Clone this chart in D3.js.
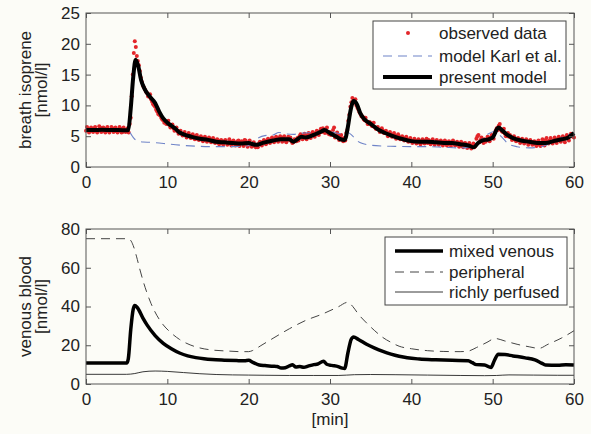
<!DOCTYPE html>
<html>
<head>
<meta charset="utf-8">
<script src="https://cdn.jsdelivr.net/npm/d3@7"></script>
<style>
  body { margin: 0; background: #fcfcf7; }
  svg { display: block; font-family: "Liberation Sans", Arial, sans-serif; }
  .axis path { display: none; }
  .axis line { stroke: #555; }
  .axis text { font-size: 17px; fill: #222; }
</style>
</head>
<body>
<div id="chart"></div>
<script>
// données

// mesures : une toutes les 0.125 min, rangées en deux séries décalées
const obsStep = 0.25;
// breath isoprene observé [nmol/l] à t = i*0.25, une ligne par minute
const observed = [
  5.9, 6.2, 5.8, 6.1,   // 0
  6.3, 5.9, 6.0, 6.4,   // 1
  5.8, 6.1, 6.2, 5.9,   // 2
  6.0, 6.3, 5.8, 6.1,   // 3
  5.9, 6.2, 5.7, 6.0,   // 4
  5.8, 5.6, 8.0, 15.0,  // 5
  20.4, 18.0, 16.5, 14.5, // 6
  13.2, 12.6, 12.0, 11.4, // 7
  11.0, 10.2, 9.8, 9.0, // 8
  8.5, 8.0, 7.6, 7.4,   // 9
  7.0, 6.8, 6.5, 6.3,   // 10
  6.0, 5.8, 5.7, 5.4,   // 11
  5.3, 5.2, 5.0, 5.1,   // 12
  4.8, 4.9, 4.6, 4.8,   // 13
  4.5, 4.7, 4.4, 4.6,   // 14
  4.3, 4.5, 4.2, 4.4,   // 15
  4.0, 4.3, 4.1, 3.9,   // 16
  4.2, 4.0, 3.8, 4.1,   // 17
  3.9, 4.0, 3.7, 4.3,   // 18
  3.8, 3.9, 4.4, 3.7,   // 19
  3.9, 3.6, 3.8, 3.4,   // 20
  3.6, 3.8, 3.9, 4.1,   // 21
  4.0, 4.3, 4.2, 4.5,   // 22
  4.3, 4.6, 4.4, 4.7,   // 23
  4.5, 4.8, 4.3, 4.6,   // 24
  4.4, 4.2, 4.0, 4.4,   // 25
  4.7, 5.0, 4.8, 5.1,   // 26
  4.9, 5.2, 5.0, 5.4,   // 27
  5.3, 5.5, 5.6, 5.8,   // 28
  5.7, 6.1, 5.8, 5.5,   // 29
  5.7, 5.3, 6.4, 5.0,   // 30
  5.2, 4.8, 4.6, 4.7,   // 31
  5.5, 7.5, 9.8, 11.2,  // 32
  10.8, 10.0, 9.3, 8.6, // 33
  8.2, 7.6, 7.4, 7.0,   // 34
  7.1, 6.6, 6.5, 6.2,   // 35
  6.1, 5.8, 5.9, 5.5,   // 36
  5.5, 5.2, 5.3, 5.0,   // 37
  5.1, 4.8, 4.9, 4.6,   // 38
  4.7, 4.4, 4.5, 4.2,   // 39
  4.3, 4.1, 4.3, 4.0,   // 40
  4.2, 4.0, 4.1, 4.3,   // 41
  3.9, 4.1, 4.2, 3.9,   // 42
  4.0, 4.1, 3.8, 4.0,   // 43
  3.9, 4.1, 3.7, 3.9,   // 44
  4.0, 3.8, 3.6, 3.9,   // 45
  3.7, 3.5, 3.8, 3.4,   // 46
  3.6, 3.3, 3.5, 3.2,   // 47
  4.6, 5.2, 4.4, 4.2,   // 48
  4.5, 4.3, 4.6, 4.8,   // 49
  5.0, 5.6, 6.3, 6.7,   // 50
  6.1, 5.7, 5.4, 5.1,   // 51
  4.9, 4.8, 4.5, 4.6,   // 52
  4.3, 4.4, 4.1, 4.3,   // 53
  4.0, 4.2, 3.9, 4.1,   // 54
  3.7, 4.0, 3.6, 3.9,   // 55
  3.7, 4.0, 4.4, 4.1,   // 56
  4.3, 4.0, 4.4, 4.2,   // 57
  4.5, 4.3, 4.6, 4.4,   // 58
  4.8, 4.6, 5.0, 5.2,   // 59
  4.8                   // 60
];
// deuxième série, à t = 0.125 + i*0.25
const observedB = [
  6.5, 5.6, 6.4, 5.7,   // 0
  6.5, 5.6, 6.6, 5.7,   // 1
  6.4, 5.6, 6.5, 5.6,   // 2
  6.5, 5.7, 6.4, 5.6,   // 3
  6.5, 5.6, 6.4, 5.7,   // 4
  6.3, 7.0, 11.5, 18.5, // 5
  19.5, 17.2, 15.6, 13.8, // 6
  12.9, 12.2, 11.5, 11.8, // 7
  10.6, 10.0, 9.3, 8.6, // 8
  8.4, 7.7, 7.2, 7.0,   // 9
  7.5, 6.4, 6.9, 5.9,   // 10
  6.4, 5.4, 5.9, 5.1,   // 11
  5.7, 4.8, 5.5, 4.7,   // 12
  5.3, 4.5, 5.2, 4.4,   // 13
  5.0, 4.2, 4.9, 4.1,   // 14
  4.8, 4.0, 4.7, 3.9,   // 15
  4.5, 3.7, 4.4, 3.6,   // 16
  4.4, 3.6, 4.5, 3.5,   // 17
  4.3, 3.5, 4.2, 3.4,   // 18
  4.2, 3.4, 4.3, 3.3,   // 19
  4.3, 3.3, 4.0, 3.2,   // 20
  3.2, 4.1, 3.5, 4.4,   // 21
  3.7, 4.6, 3.9, 4.8,   // 22
  4.0, 4.9, 4.1, 5.0,   // 23
  4.1, 5.0, 4.0, 4.9,   // 24
  4.8, 3.9, 4.5, 4.2,   // 25
  4.3, 5.3, 4.5, 5.4,   // 26
  4.5, 5.5, 4.7, 5.7,   // 27
  4.9, 5.9, 5.2, 6.2,   // 28
  6.3, 5.5, 6.4, 5.3,   // 29
  5.2, 6.0, 4.8, 5.6,   // 30
  4.4, 5.2, 4.2, 4.3,   // 31
  6.0, 8.5, 10.5, 10.4, // 32
  11.0, 9.6, 8.9, 8.2,  // 33
  7.8, 8.0, 7.0, 7.3,   // 34
  6.7, 7.2, 6.2, 6.5,   // 35
  5.7, 6.3, 5.5, 5.9,   // 36
  5.0, 5.7, 4.9, 5.5,   // 37
  4.6, 5.3, 4.5, 5.0,   // 38
  4.3, 4.9, 4.1, 4.7,   // 39
  3.9, 4.6, 3.8, 4.5,   // 40
  3.7, 4.5, 3.8, 4.6,   // 41
  4.4, 3.7, 4.5, 3.6,   // 42
  4.4, 3.6, 4.3, 3.5,   // 43
  4.3, 3.5, 4.2, 3.4,   // 44
  4.3, 3.5, 4.1, 3.3,   // 45
  4.1, 3.2, 3.9, 3.1,   // 46
  3.9, 3.0, 3.8, 3.5,   // 47
  5.0, 4.0, 4.8, 3.9,   // 48
  4.1, 4.9, 4.2, 5.2,   // 49
  4.6, 5.9, 6.0, 7.0,   // 50
  5.8, 6.2, 5.0, 5.5,   // 51
  5.2, 4.4, 5.0, 4.2,   // 52
  4.7, 3.9, 4.6, 3.8,   // 53
  4.5, 3.6, 4.4, 3.6,   // 54
  4.2, 3.4, 4.3, 3.4,   // 55
  4.5, 3.5, 4.7, 3.8,   // 56
  4.7, 3.8, 4.8, 3.9,   // 57
  4.9, 4.1, 5.0, 4.0,   // 58
  5.2, 4.3, 5.4, 4.9    // 59
];

// modèle de Karl et al. [t, valeur]
const karlModel = [
  [0, 6.0], [5, 6.0], [5.3, 5.8], [5.7, 5.0], [6.0, 4.5], [6.5, 4.2], [7, 4.05], [8, 4.0],
  [9, 3.9], [10, 3.75], [12, 3.5], [14, 3.35], [16, 3.3], [18, 3.3], [19.5, 3.35], [20.5, 3.8],
  [21.3, 4.8], [22, 5.1], [23, 5.2], [23.7, 5.6], [24.5, 5.4], [25.5, 5.3], [26.5, 5.5], [28, 5.6],
  [29.3, 5.8], [30.5, 5.6], [31.5, 5.4], [32.2, 5.6], [32.8, 5.0], [33.4, 4.2], [34, 3.8], [35, 3.55],
  [36.5, 3.4], [38, 3.35], [40, 3.3], [42, 3.3], [44, 3.2], [46, 3.1], [47.5, 3.2], [48.5, 4.3],
  [49.5, 5.4], [50.3, 5.8], [51, 5.0], [52, 3.7], [53, 3.3], [54.5, 3.1], [56, 3.3], [57.5, 4.1],
  [58.5, 4.8], [59.5, 5.3], [60, 5.6]
];

// modèle présent [t, valeur]
const presentModel = [
  [0, 6.0], [1, 6.0], [2, 6.05], [3, 6.0], [4, 6.0], [5, 5.95], [5.2, 6.0], [5.5, 9.5],
  [5.8, 14.5], [6.1, 17.4], [6.4, 16.5], [6.8, 14.0], [7.2, 12.7], [7.8, 11.5], [8.5, 10.4], [9.0, 9.0],
  [9.5, 7.9], [10, 7.2], [10.5, 6.7], [11, 6.2], [11.5, 5.6], [12, 5.3], [13, 4.9], [14, 4.6],
  [15, 4.4], [16, 4.1], [17, 4.0], [18, 3.9], [19, 3.8], [20, 3.9], [20.5, 3.7], [21, 3.6],
  [21.5, 3.8], [22, 4.0], [23, 4.3], [24, 4.5], [25, 4.5], [25.5, 4.1], [26, 4.5], [26.5, 4.9],
  [27, 4.8], [28, 5.2], [29, 5.8], [29.3, 6.0], [30, 5.5], [30.7, 5.0], [31.3, 4.5], [31.8, 4.4],
  [32.2, 6.5], [32.5, 9.0], [32.9, 10.7], [33.3, 10.2], [33.7, 8.8], [34.2, 7.8], [35, 7.0], [36, 6.0],
  [37, 5.4], [38, 4.9], [39, 4.5], [40, 4.2], [41, 4.1], [42, 4.1], [43, 4.0], [44, 3.9],
  [45, 3.9], [46, 3.7], [47, 3.5], [47.7, 3.2], [48.2, 3.9], [48.7, 4.3], [49.5, 4.5], [50, 4.8],
  [50.7, 6.4], [51.2, 5.9], [51.8, 5.2], [52.5, 4.7], [53.5, 4.3], [54.5, 4.1], [55.5, 3.9], [56.5, 3.9],
  [57.5, 4.2], [58.5, 4.5], [59.3, 4.8], [60, 5.5]
];

// sang veineux mélangé [t, valeur]
const mixedVenous = [
  [0, 10.8], [5.0, 10.8], [5.2, 13], [5.5, 28], [5.8, 38.5], [6.0, 40.5], [6.3, 39.5], [7, 34],
  [7.5, 30.5], [8.5, 25], [9.5, 21], [10.5, 18.2], [11.5, 16], [12.5, 14.5], [13.5, 13.6], [14.5, 13.0],
  [15.5, 12.6], [17, 12.3], [18.5, 12.1], [19.5, 12.0], [20, 12.2], [20.5, 11.2], [21.3, 9.8], [22, 9.5],
  [23, 9.2], [23.5, 9.0], [24, 8.2], [24.5, 8.4], [25, 9.4], [25.4, 9.9], [25.8, 8.8], [26.3, 9.0],
  [26.8, 8.6], [27.3, 9.2], [28, 10.0], [28.5, 10.3], [29.2, 11.8], [29.6, 10.2], [30.2, 9.6], [31, 9.0],
  [31.5, 8.2], [31.8, 8.0], [32.2, 16], [32.6, 23], [32.9, 24.3], [33.5, 23], [34.5, 20.5], [35.5, 18.5],
  [36.5, 16.8], [37.5, 15.4], [38.5, 14.3], [39.5, 13.5], [41, 12.9], [43, 12.5], [45, 12.2], [47, 12.0],
  [47.5, 11.0], [48, 10.0], [49, 9.8], [49.8, 8.5], [50.2, 12], [50.7, 15.3], [51.5, 15.2], [52.5, 14.5],
  [54, 13.5], [55.2, 12.4], [56, 10.8], [56.5, 9.8], [58, 9.7], [59, 10.0], [60, 9.8]
];

// compartiment périphérique [t, valeur]
const peripheral = [
  [0, 75], [5, 75], [5.4, 74.5], [5.8, 71.5], [6.2, 66], [6.6, 59.5], [7, 53.5], [7.5, 47],
  [8, 41.5], [8.7, 35.5], [9.5, 30.5], [10.3, 27], [11.5, 23], [12.8, 20.2], [14, 18.6], [15.6, 17.5],
  [17.5, 17], [19, 16.7], [20, 16.7], [20.5, 17.3], [21.5, 19.8], [23, 23.6], [25, 28.5], [27, 32.8],
  [29, 36], [31, 39.8], [32.2, 42.2], [32.8, 40], [33.5, 36], [34.5, 31.5], [35.5, 27.5], [36.5, 24],
  [37.5, 21.5], [38.5, 19.5], [40, 18.2], [42, 17.2], [44, 16.8], [46, 16.7], [47, 17.0], [48, 18.8],
  [49.3, 21.5], [50.3, 23.5], [51.5, 22.2], [53, 20.5], [54.5, 19.2], [55.7, 18.4], [56.8, 20.5], [58.5, 23.8],
  [60, 27.5]
];

// compartiment richement perfusé [t, valeur]
const richlyPerfused = [
  [0, 5.0], [5, 5.0], [6, 5.4], [7, 6.3], [8.5, 6.7], [10, 6.5], [12, 5.9], [14, 5.3],
  [16, 4.9], [18, 4.7], [20, 4.6], [22, 4.5], [25, 4.4], [28, 4.4], [31, 4.4], [33, 4.8],
  [35, 4.9], [38, 4.8], [42, 4.6], [46, 4.4], [49, 4.3], [50.5, 4.4], [52, 4.7], [55, 4.6],
  [58, 4.5], [60, 4.5]
];

const xTicks = [0, 10, 20, 30, 40, 50, 60];
const yTicksTop = [0, 5, 10, 15, 20, 25];
const yTicksBottom = [0, 20, 40, 60, 80];

const legendTop = ["observed data", "model Karl et al.", "present model"];
const legendBottom = ["mixed venous", "peripheral", "richly perfused"];

// dimensions
const W = 591, H = 434;
const left = 86, right = 574;

const svg = d3.select("#chart")
    .append("svg")
    .attr("width", W)
    .attr("height", H);

svg.append("rect").attr("width", W).attr("height", H).attr("fill", "#fcfcf7");

const x = d3.scaleLinear().domain([0, 60]).range([left, right]);

// dessine un cadre avec axes (graduations vers l'intérieur sur les 4 côtés)
function cadre(y, top, bottom, yTicks) {
    const g = svg.append("g");
    g.append("g").attr("class", "axis")
        .attr("transform", "translate(0," + bottom + ")")
        .call(d3.axisBottom(x).tickValues(xTicks).tickSize(-5).tickPadding(9));
    g.append("g").attr("class", "axis")
        .attr("transform", "translate(0," + top + ")")
        .call(d3.axisTop(x).tickValues(xTicks).tickSize(-5).tickFormat(""));
    g.append("g").attr("class", "axis")
        .attr("transform", "translate(" + left + ",0)")
        .call(d3.axisLeft(y).tickValues(yTicks).tickSize(-5).tickPadding(6));
    g.append("g").attr("class", "axis")
        .attr("transform", "translate(" + right + ",0)")
        .call(d3.axisRight(y).tickValues(yTicks).tickSize(-5).tickFormat(""));
    g.append("rect")
        .attr("x", left).attr("y", top)
        .attr("width", right - left).attr("height", bottom - top)
        .attr("fill", "none").attr("stroke", "#555").attr("stroke-width", 1);
}

function ylabel(l1, l2, cy) {
    const t = svg.append("text")
        .attr("transform", "translate(31," + cy + ") rotate(-90)")
        .attr("text-anchor", "middle")
        .style("font-size", "17px").attr("fill", "#222");
    t.append("tspan").attr("x", 0).attr("y", 0).text(l1);
    t.append("tspan").attr("x", 0).attr("y", 16).text(l2);
}

// ---- graphique du haut ----
const top1 = 13, bot1 = 167;
const y1 = d3.scaleLinear().domain([0, 25]).range([bot1, top1]);

const line1 = d3.line()
    .x(d => x(d[0]))
    .y(d => y1(d[1]))
    .curve(d3.curveMonotoneX);

const points = svg.append("g").attr("fill", "#e3262a");
points.selectAll(".a")
    .data(observed)
    .join("circle")
    .attr("class", "a")
    .attr("cx", (d, i) => x(i * obsStep))
    .attr("cy", d => y1(d))
    .attr("r", 2);
points.selectAll(".b")
    .data(observedB)
    .join("circle")
    .attr("class", "b")
    .attr("cx", (d, i) => x(obsStep / 2 + i * obsStep))
    .attr("cy", d => y1(d))
    .attr("r", 2);

svg.append("path")
    .datum(karlModel)
    .attr("d", line1)
    .attr("fill", "none")
    .attr("stroke", "#6f84c8")
    .attr("stroke-width", 1.1)
    .attr("stroke-dasharray", "9,6");

svg.append("path")
    .datum(presentModel)
    .attr("d", line1)
    .attr("fill", "none")
    .attr("stroke", "#000")
    .attr("stroke-width", 4)
    .attr("stroke-linejoin", "round");

cadre(y1, top1, bot1, yTicksTop);
ylabel("breath isoprene", "[nmol/l]", (top1 + bot1) / 2);

// légende du haut
const lg1 = svg.append("g");
lg1.append("rect").attr("x", 373).attr("y", 21).attr("width", 193).attr("height", 68)
    .attr("fill", "#fff").attr("stroke", "#444");
const ly1 = [33, 56, 77];
lg1.append("circle").attr("cx", 408).attr("cy", ly1[0]).attr("r", 2).attr("fill", "#e3262a");
lg1.append("line").attr("x1", 383).attr("x2", 432).attr("y1", ly1[1]).attr("y2", ly1[1])
    .attr("stroke", "#6f84c8").attr("stroke-width", 1.1).attr("stroke-dasharray", "9,6");
lg1.append("line").attr("x1", 383).attr("x2", 432).attr("y1", ly1[2]).attr("y2", ly1[2])
    .attr("stroke", "#000").attr("stroke-width", 4);
legendTop.forEach((s, i) => {
    lg1.append("text").attr("x", 439).attr("y", ly1[i]).attr("dy", "0.35em")
        .style("font-size", "17px").attr("fill", "#222").text(s);
});

// ---- graphique du bas ----
const top2 = 229, bot2 = 384;
const y2 = d3.scaleLinear().domain([0, 80]).range([bot2, top2]);

const line2 = d3.line()
    .x(d => x(d[0]))
    .y(d => y2(d[1]))
    .curve(d3.curveMonotoneX);

svg.append("path")
    .datum(peripheral)
    .attr("d", line2)
    .attr("fill", "none")
    .attr("stroke", "#444")
    .attr("stroke-width", 1)
    .attr("stroke-dasharray", "9,6");

svg.append("path")
    .datum(richlyPerfused)
    .attr("d", line2)
    .attr("fill", "none")
    .attr("stroke", "#222")
    .attr("stroke-width", 0.9);

svg.append("path")
    .datum(mixedVenous)
    .attr("d", line2)
    .attr("fill", "none")
    .attr("stroke", "#000")
    .attr("stroke-width", 3.5)
    .attr("stroke-linejoin", "round");

cadre(y2, top2, bot2, yTicksBottom);
ylabel("venous blood", "[nmol/l]", (top2 + bot2) / 2);

svg.append("text")
    .attr("x", (left + right) / 2).attr("y", 425)
    .attr("text-anchor", "middle")
    .style("font-size", "17px").attr("fill", "#222")
    .text("[min]");

// légende du bas
const lg2 = svg.append("g");
lg2.append("rect").attr("x", 385).attr("y", 237).attr("width", 182).attr("height", 68)
    .attr("fill", "#fff").attr("stroke", "#444");
const ly2 = [251, 272, 292];
lg2.append("line").attr("x1", 395).attr("x2", 443).attr("y1", ly2[0]).attr("y2", ly2[0])
    .attr("stroke", "#000").attr("stroke-width", 3.5);
lg2.append("line").attr("x1", 395).attr("x2", 443).attr("y1", ly2[1]).attr("y2", ly2[1])
    .attr("stroke", "#444").attr("stroke-width", 1).attr("stroke-dasharray", "9,6");
lg2.append("line").attr("x1", 395).attr("x2", 443).attr("y1", ly2[2]).attr("y2", ly2[2])
    .attr("stroke", "#222").attr("stroke-width", 0.9);
legendBottom.forEach((s, i) => {
    lg2.append("text").attr("x", 449).attr("y", ly2[i]).attr("dy", "0.35em")
        .style("font-size", "17px").attr("fill", "#222").text(s);
});
</script>
</body>
</html>
